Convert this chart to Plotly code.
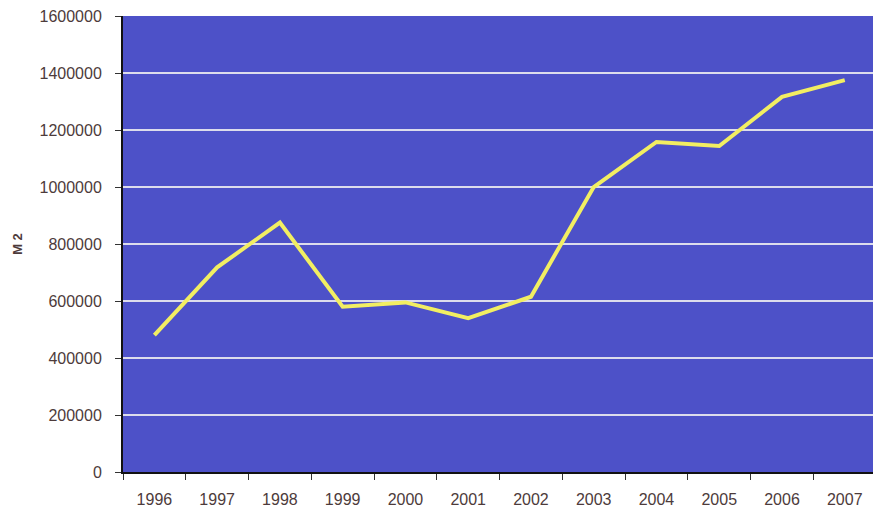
import plotly.graph_objects as go

# Annual built area, square metres
years = ["1996", "1997", "1998", "1999", "2000", "2001",
         "2002", "2003", "2004", "2005", "2006", "2007"]
area_m2 = [480000, 718000, 875000, 580000, 595000, 540000,
           615000, 1000000, 1158000, 1144000, 1316000, 1375000]
y_ticks = [0, 200000, 400000, 600000, 800000, 1000000,
           1200000, 1400000, 1600000]

fig = go.Figure(
    go.Scatter(
        x=years,
        y=area_m2,
        mode="lines",
        line=dict(color="#f2ee62", width=4),
        hoverinfo="x+y",
    )
)

text_color = "#4d3b3b"
x_font = dict(family="Liberation Sans, Arial, sans-serif", size=16, color=text_color)
y_font = dict(family="Liberation Sans, Arial, sans-serif", size=16, color=text_color)

fig.update_layout(
    width=873,
    height=517,
    margin=dict(l=123, r=0, t=16, b=45),
    paper_bgcolor="white",
    plot_bgcolor="#4d51c8",
    showlegend=False,
)

fig.update_xaxes(
    type="category",
    range=[-0.5, 11.45],
    showgrid=False,
    showline=True,
    linecolor="#111111",
    linewidth=2,
    ticks="outside",
    tickson="boundaries",
    ticklen=6,
    tickcolor="#333333",
    tickfont=x_font,
    ticklabelstandoff=12,
)

fig.update_yaxes(
    range=[0, 1600000],
    tickvals=y_ticks,
    ticktext=[str(v) for v in y_ticks],
    showgrid=True,
    gridcolor="#dcdcec",
    gridwidth=1.5,
    zeroline=False,
    showline=True,
    linecolor="#111111",
    linewidth=2,
    ticks="outside",
    ticklen=6,
    tickcolor="#333333",
    tickfont=y_font,
    ticklabelstandoff=10,
    title=dict(
        text="<b>M 2</b>",
        font=dict(family="Liberation Sans, Arial, sans-serif", size=13, color=text_color),
        standoff=14,
    ),
)

fig.write_html("out.html")
